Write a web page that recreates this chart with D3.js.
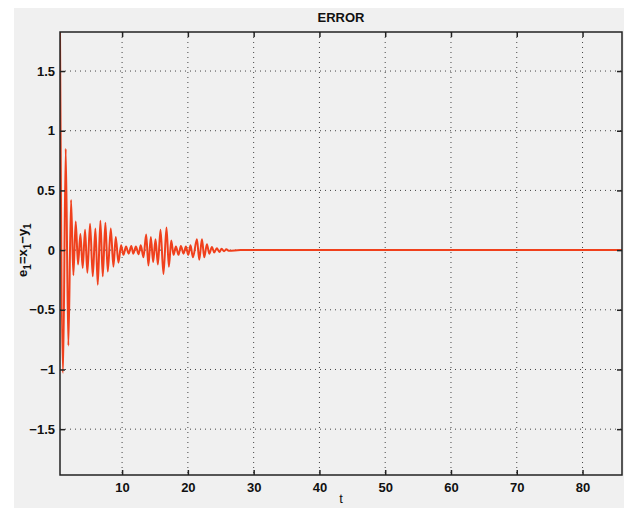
<!DOCTYPE html>
<html>
<head>
<meta charset="utf-8">
<script src="https://cdn.jsdelivr.net/npm/d3@7"></script>
<style>
  html, body { margin: 0; padding: 0; background: #fff; }
  svg { display: block; font-family: "Liberation Sans", Arial, sans-serif; }
</style>
</head>
<body>
<div id="chart"></div>
<script>
// extrema of e1 = x1 - y1 (t, value)
const tVals = [0.56, 1.02, 1.43, 1.83, 2.24, 2.59, 2.95, 3.30, 3.66, 4.01, 4.37, 4.72, 5.13, 5.54,
  5.94, 6.30, 6.70, 7.06, 7.46, 7.82, 8.28, 8.68, 9.04, 9.44, 9.85, 10.2, 10.6, 11.0, 11.4, 11.7,
  12.1, 12.5, 12.84, 13.25, 13.66, 14.0, 14.37, 14.72, 15.08, 15.44, 15.84, 16.29, 16.75, 17.11,
  17.47, 17.82, 18.18, 18.58, 18.94, 19.34, 19.7, 20.06, 20.4, 20.77, 21.38, 21.73, 22.14, 22.49,
  22.9, 23.25, 23.66, 24.0, 24.4, 24.8, 25.13, 25.5, 25.85, 26.2, 28, 86];
const eVals = [1.83, -1.03, 0.85, -0.80, 0.42, -0.21, 0.24, -0.12, 0.135, -0.15, 0.17, -0.19, 0.22, -0.22,
  0.18, -0.29, 0.245, -0.22, 0.23, -0.18, 0.18, -0.14, 0.11, -0.105, 0.04, -0.04, 0.03, -0.03, 0.035, -0.03,
  0.03, -0.035, 0.04, -0.06, 0.13, -0.13, 0.11, -0.10, 0.09, -0.12, 0.17, -0.20, 0.19, -0.14,
  0.08, -0.04, 0.03, -0.04, 0.035, -0.03, 0.03, -0.04, 0.04, -0.06, 0.09, -0.08, 0.09, -0.06,
  0.05, -0.03, 0.025, -0.02, 0.015, -0.015, 0.012, -0.01, 0.008, -0.006, 0, 0];
const xTicks = [10, 20, 30, 40, 50, 60, 70, 80];
const yTicks = [-1.5, -1, -0.5, 0, 0.5, 1, 1.5];
const xDomain = [0.56, 86];
const yDomain = [-1.884, 1.827];

const W = 642, H = 508;
const margin = { top: 32, right: 20, bottom: 33, left: 60 };
const w = W - margin.left - margin.right, h = H - margin.top - margin.bottom;

const svg = d3.select("#chart").append("svg").attr("width", W).attr("height", H);
svg.append("rect").attr("x", 14).attr("y", 8).attr("width", 610).attr("height", 500).attr("fill", "#f0f0f0");

const g = svg.append("g").attr("transform", `translate(${margin.left},${margin.top})`);
const x = d3.scaleLinear().domain(xDomain).range([0, w]);
const y = d3.scaleLinear().domain(yDomain).range([h, 0]);

// dotted grid
g.append("g").selectAll("line").data(xTicks).join("line")
  .attr("x1", d => x(d)).attr("x2", d => x(d)).attr("y1", 0).attr("y2", h)
  .attr("stroke", "#444").attr("stroke-width", 1).attr("stroke-dasharray", "1,4");
g.append("g").selectAll("line").data(yTicks).join("line")
  .attr("y1", d => y(d)).attr("y2", d => y(d)).attr("x1", 0).attr("x2", w)
  .attr("stroke", "#444").attr("stroke-width", 1).attr("stroke-dasharray", "1,4");

g.append("defs").append("clipPath").attr("id", "clip")
  .append("rect").attr("width", w).attr("height", h);

const rows = tVals.map((t, i) => ({ t, e: eVals[i] }));
const line = d3.line().x(d => x(d.t)).y(d => y(d.e)).curve(d3.curveMonotoneX);
g.append("path").datum(rows).attr("clip-path", "url(#clip)")
  .attr("fill", "none").attr("stroke", "#f0401c").attr("stroke-width", 2)
  .attr("stroke-linejoin", "round").attr("d", line);

// axes, MATLAB style: ticks inward on all four sides
const tk = 5;
const style = s => {
  s.select(".domain").remove();
  s.selectAll("line").attr("stroke", "#222").attr("stroke-width", 1.5);
  s.selectAll("text").attr("fill", "#111").style("font-size", "13px").style("font-weight", "bold");
};
g.append("g").attr("transform", `translate(0,${h})`)
  .call(d3.axisBottom(x).tickValues(xTicks).tickSize(-tk).tickPadding(8).tickFormat(d3.format("d")))
  .call(style);
g.append("g")
  .call(d3.axisTop(x).tickValues(xTicks).tickSize(-tk).tickFormat(""))
  .call(style);
g.append("g")
  .call(d3.axisLeft(y).tickValues(yTicks).tickSize(-tk).tickPadding(5).tickFormat(d3.format("")))
  .call(style);
g.append("g").attr("transform", `translate(${w},0)`)
  .call(d3.axisRight(y).tickValues(yTicks).tickSize(-tk).tickFormat(""))
  .call(style);

g.append("rect").attr("width", w).attr("height", h)
  .attr("fill", "none").attr("stroke", "#222").attr("stroke-width", 1.5);

svg.append("text").attr("x", margin.left + w / 2).attr("y", 22).attr("text-anchor", "middle")
  .style("font-size", "13px").style("font-weight", "bold").attr("fill", "#111").text("ERROR");
svg.append("text").attr("x", margin.left + w / 2).attr("y", 503).attr("text-anchor", "middle")
  .style("font-size", "13px").attr("fill", "#111").text("t");

const yl = svg.append("text").attr("transform", `translate(27,${margin.top + y(0)}) rotate(-90)`)
  .attr("text-anchor", "middle").style("font-size", "13px").style("font-weight", "bold").attr("fill", "#111");
yl.append("tspan").text("e");
yl.append("tspan").attr("dy", 4).style("font-size", "10px").text("1");
yl.append("tspan").attr("dy", -4).text("=x");
yl.append("tspan").attr("dy", 4).style("font-size", "10px").text("1");
yl.append("tspan").attr("dy", -4).text("\u2212y");
yl.append("tspan").attr("dy", 4).style("font-size", "10px").text("1");
</script>
</body>
</html>
